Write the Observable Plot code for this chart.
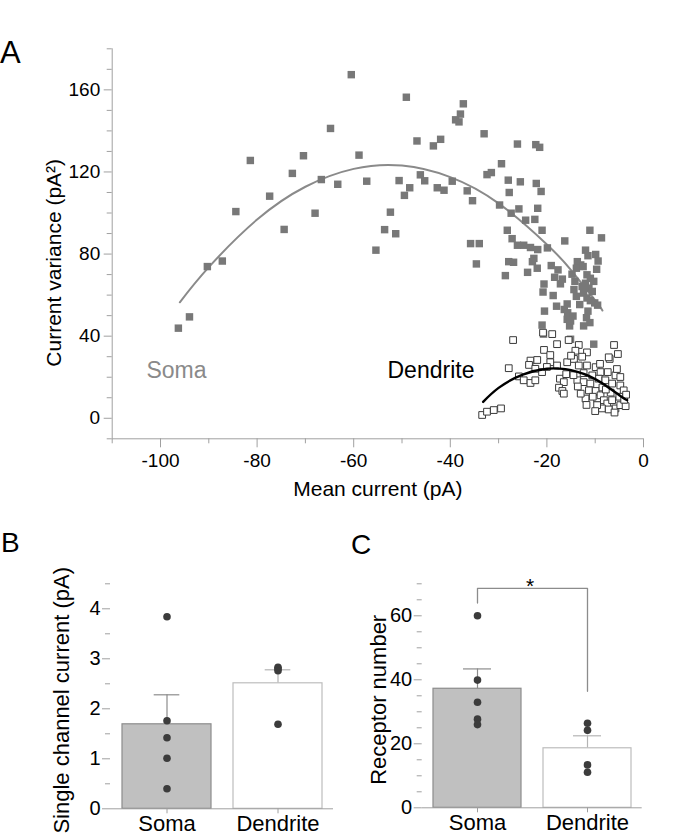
<!DOCTYPE html>
<html>
<head>
<meta charset="utf-8">
<script src="https://cdn.jsdelivr.net/npm/d3@7"></script>
<script src="https://cdn.jsdelivr.net/npm/@observablehq/plot@0.6"></script>
<style>
  html, body { margin: 0; padding: 0; background: #fff; }
  #root { position: relative; width: 685px; height: 835px; font-family: "Liberation Sans", Arial, sans-serif; color: #000; overflow: hidden; }
  .panel { position: absolute; }
  .letter { position: absolute; line-height: 1; font-family: "Liberation Sans", Arial, sans-serif; }
</style>
</head>
<body>
<div id="root">
  <div class="letter" style="left:0px;top:37px;font-size:31px;">A</div>
  <div class="letter" style="left:1px;top:529px;font-size:28px;">B</div>
  <div class="letter" style="left:351px;top:531px;font-size:28px;">C</div>
  <div class="panel" id="pA" style="left:0;top:0;"></div>
  <div class="panel" id="pB" style="left:0;top:520px;"></div>
  <div class="panel" id="pC" style="left:342px;top:520px;"></div>
</div>
<script>
// ---------------- Panel A data ----------------
const somaCurrent = [
  -60.5,-81.4,-84.4,-74.4,-77.4,-72.7,-70.4,-64.8,-68.0,-66.7,-63.3,
  -96.3,-94.0,-90.3,-87.2,
  -49.1,-37.3,-37.9,-38.9,-38.2,-33.0,-46.9,-42.0,-43.5,-58.9,-57.3,-50.6,-46.2,-45.3,-48.4,-49.5,
  -42.7,-41.3,-39.6,-36.5,-35.4,-32.4,-31.5,-29.4,-29.8,-52.4,-53.6,-51.3,-55.4,-35.8,-34.0,
  -26.1,-22.3,-21.5,-28.0,-25.5,-22.2,-27.8,-21.2,-27.4,-25.8,-21.9,-24.4,-22.5,-21.0,-28.2,
  -27.2,-26.1,-24.8,-23.4,-21.9,-19.9,-34.6,-27.9,-26.9,-22.7,-23.0,-22.0,-24.0,-28.6,-20.6,
  -20.8,-20.5,-21.0,
  -11.1,-8.7,-16.3,-12.0,-11.5,-9.9,-9.4,-13.7,-13.0,-13.9,-12.5,-9.7,-19.1,-17.7,-16.8,-18.4,
  -17.2,-14.8,-14.2,-11.7,-11.0,-10.3,-12.0,-12.7,-11.3,-10.6,-12.4,-11.7,-11.0,-10.1,-9.5,
  -14.4,-13.9,-13.2,-18.7,-18.0,-15.8,-16.4,-15.7,-15.8,-14.6,-15.3,-11.5,-11.8,-11.1,-12.4,
  -20.7,-15.1,-10.3,-15.1
];
const somaVariance = [
  167.4,125.6,100.7,92.0,108.2,119.3,127.9,141.2,99.9,116.3,114.0,
  43.9,49.4,73.9,76.6,
  156.4,153.2,148.2,145.4,144.4,138.6,135.1,135.9,132.7,128.2,115.5,115.8,118.6,115.7,112.3,108.6,
  112.3,111.1,115.5,110.8,106.0,118.7,119.7,124.0,103.9,100.4,91.9,89.9,81.9,85.1,85.1,
  133.6,133.3,132.0,116.0,115.2,114.4,110.0,110.5,99.9,102.0,102.3,96.5,96.9,91.6,91.6,
  87.5,84.3,84.3,83.2,82.2,83.0,75.2,76.3,76.0,77.9,76.3,73.1,71.1,69.5,65.4,
  61.5,52.2,45.4,
  91.6,87.9,86.4,81.9,79.2,79.8,76.6,76.3,74.7,73.1,73.9,72.6,74.4,72.3,67.8,68.7,
  65.5,70.2,66.7,69.9,68.2,66.7,65.8,64.2,63.4,61.8,61.0,58.6,57.3,56.2,55.1,
  62.7,59.4,55.4,59.8,54.6,55.7,53.0,51.4,48.2,49.8,45.0,52.2,49.0,46.6,45.0,
  41.0,47.4,36.1,38.5
];
const dendriteCurrent = [
  -27.0,-20.8,-18.9,-20.6,-17.9,-15.5,-13.4,-11.7,-14.1,-19.3,-6.1,-5.3,-7.0,
  -27.9,-23.4,-22.0,-23.7,-22.4,-25.8,-24.8,-23.4,-22.4,-19.3,-17.9,-15.8,-14.4,-12.7,
  -13.4,-11.7,-9.9,-8.9,-7.4,-5.8,-4.8,-17.3,-16.5,-17.5,-16.8,-16.5,-13.7,-12.4,-11.0,
  -9.3,-7.9,-6.5,-4.8,-4.1,-11.3,-9.9,-12.0,-9.6,-8.9,-8.2,-7.5,-6.5,-5.8,-4.8,-3.7,
  -8.6,-7.2,-33.4,-32.4,-31.0,-29.5,-9.6,-12.4,-10.6,-7.2,
  -10.0,-6.0,-5.0,-6.8,-8.5,-10.5,-13.0,-14.5,-21.0,-4.0,-3.6,
  -16.0,-15.0,-9.0,-7.8,-5.5,-11.8,-13.6,-20.0
];
const dendriteVariance = [
  38.1,41.7,41.0,33.3,36.1,38.1,35.7,32.1,32.9,30.8,35.7,31.3,28.9,
  24.4,28.1,28.4,26.0,24.1,20.4,18.5,17.2,18.5,27.3,25.7,27.3,28.9,30.0,
  25.7,25.7,24.9,22.5,22.5,20.9,20.1,19.3,17.6,14.9,13.3,12.0,18.5,17.6,16.9,
  19.3,18.5,16.9,16.0,13.6,13.6,13.3,9.6,9.6,11.2,8.8,7.2,8.8,4.8,6.4,5.9,
  4.8,4.3,1.6,3.2,4.0,4.8,6.4,22.0,20.9,29.7,
  3.5,2.8,10.5,12.5,15.0,10.5,12.0,21.0,22.5,9.0,11.5,
  21.5,30.5,26.5,14.0,24.0,6.5,15.5,25.0
];
// fitted parabolas, sampled from the drawn curves
const somaFitX = [-96, -90, -80, -70, -60, -50, -40, -30, -20, -15, -10, -8.5];
const somaFitY = [56.5, 73.6, 96.8, 112.8, 121.5, 123.1, 117.5, 104.7, 84.7, 72.2, 57.4, 52.5];
const dendFitX = [-33.2, -30, -25, -20, -17.5, -15, -10, -5, -3.4];
const dendFitY = [8.0, 14.8, 21.3, 24.1, 24.2, 23.4, 19.1, 11.2, 8.8];

const xMajorA = [-100, -80, -60, -40, -20, 0];
const xMinorA = [-110, -90, -70, -50, -30, -10];
const yMajorA = [0, 40, 80, 120, 160];
const yMinorA = [-10, 10, 20, 30, 50, 60, 70, 90, 100, 110, 130, 140, 150, 170, 180];

// ---------------- Panels B & C data ----------------
const groups = ["Soma", "Dendrite"];
const channelMean = [1.69, 2.51];
const channelSemTop = [2.28, 2.78];
const channelSoma = [3.84, 1.76, 1.42, 1.01, 0.40];
const channelDend = [2.83, 2.80, 2.76, 1.69];
const yMajorB = [0, 1, 2, 3, 4];
const yMinorB = [0.5, 1.5, 2.5, 3.5, 4.5];

const receptorMean = [37.2, 18.6];
const receptorSemTop = [43.4, 22.5];
const receptorSoma = [60, 39.9, 33.0, 27.7, 26.0];
const receptorDend = [26.4, 24.2, 13.4, 11.1];
const yMajorC = [0, 20, 40, 60];
const yMinorC = [5, 10, 15, 25, 30, 35, 45, 50, 55, 65, 70];
const bracketC = [{g: "Soma", v: 64}, {g: "Soma", v: 68.6}, {g: "Dendrite", v: 68.6}, {g: "Dendrite", v: 36.4}];

// ---------------- styling ----------------
const FONT = '"Liberation Sans", Arial, sans-serif';
const AX = "#a0a0a0";
const fmt = d => String(d);

const soma = somaCurrent.map((x, i) => ({x, y: somaVariance[i]}));
const dend = dendriteCurrent.map((x, i) => ({x, y: dendriteVariance[i]}));
const somaFit = somaFitX.map((x, i) => ({x, y: somaFitY[i]}));
const dendFit = dendFitX.map((x, i) => ({x, y: dendFitY[i]}));

// ---------------- Panel A ----------------
const A = Plot.plot({
  width: 685, height: 510,
  marginLeft: 111.7, marginRight: 42, marginTop: 48.3, marginBottom: 71.7,
  x: {domain: [-110, 0], axis: null},
  y: {domain: [-10, 180], axis: null},
  style: {fontFamily: FONT, fontSize: "19px", background: "transparent", overflow: "visible", color: "#000"},
  marks: [
    Plot.ruleY([-10], {stroke: AX}),
    Plot.ruleX([-110], {stroke: AX}),
    Plot.axisX(xMinorA, {tickSize: 5, tickFormat: () => "", stroke: AX, label: null}),
    Plot.axisX(xMajorA, {tickSize: 9, tickPadding: 6, tickFormat: fmt, stroke: AX, fill: "#000", fontSize: 19, label: null}),
    Plot.axisY(yMinorA, {tickSize: 5, tickFormat: () => "", stroke: AX, label: null}),
    Plot.axisY(yMajorA, {tickSize: 8, tickPadding: 4, tickFormat: fmt, stroke: AX, fill: "#000", fontSize: 19, label: null}),
    Plot.line(somaFit, {x: "x", y: "y", stroke: "#8a8a8a", strokeWidth: 2, curve: "natural"}),
    Plot.dot(soma, {x: "x", y: "y", symbol: "square", r: 4.2, fill: "#787878", stroke: "none"}),
    Plot.dot(dend, {x: "x", y: "y", symbol: "square", r: 3.8, fill: "#fff", stroke: "#3a3a3a", strokeWidth: 1}),
    Plot.line(dendFit, {x: "x", y: "y", stroke: "#000", strokeWidth: 2.4, curve: "natural"}),
    Plot.text(["Soma"], {x: [-96.7], y: [23.3], text: d => d, fontSize: 23, fill: "#8a8a8a"}),
    Plot.text(["Dendrite"], {x: [-44], y: [23.3], text: d => d, fontSize: 23, fill: "#000"}),
    Plot.text(["Mean current (pA)"], {frameAnchor: "bottom", textAnchor: "middle", lineAnchor: "middle", dy: 50, fontSize: 21, fill: "#000"}),
    Plot.text(["Current variance (pA²)"], {frameAnchor: "left", textAnchor: "middle", lineAnchor: "middle", dx: -58, dy: 19, rotate: -90, fontSize: 21, fill: "#000"})
  ]
});
document.getElementById("pA").appendChild(A);

// ---------------- bar panel helper ----------------
function barPanel({width, marginLeft, marginRight, marginTop, marginBottom, yDomain, means, tops, somaPts, dendPts, yMajor, yMinor, label, labelDx, labelDy, capInset, extra = []}) {
  const height = 315;
  const bars = groups.map((g, i) => ({g, mean: means[i], top: tops[i]}));
  const dots = [...somaPts.map(v => ({g: "Soma", v})), ...dendPts.map(v => ({g: "Dendrite", v}))];
  const plotW = width - marginLeft - marginRight;
  return Plot.plot({
    width, height, marginLeft, marginRight, marginTop, marginBottom,
    x: {domain: groups, padding: 0, axis: null},
    y: {domain: yDomain, axis: null},
    style: {fontFamily: FONT, fontSize: "19px", background: "transparent", overflow: "visible", color: "#000"},
    marks: [
      Plot.ruleX(bars, {x: "g", y1: "mean", y2: "top", stroke: d => d.g === "Soma" ? "#8c8c8c" : "#b4b4b4", strokeWidth: 1.2}),
      Plot.tickY(bars, {x: "g", y: "top", stroke: d => d.g === "Soma" ? "#8c8c8c" : "#b4b4b4", strokeWidth: 1.2, insetLeft: capInset, insetRight: capInset}),
      Plot.barY(bars, {x: "g", y: "mean", fill: d => d.g === "Soma" ? "#c0c0c0" : "#ffffff", stroke: d => d.g === "Soma" ? "#8c8c8c" : "#bdbdbd", strokeWidth: 1.2, insetLeft: 11, insetRight: 11}),
      Plot.dot(dots, {x: "g", y: "v", r: 3.8, fill: "#3c3c3c", stroke: "none"}),
      Plot.ruleY([yDomain[0]], {stroke: AX}),
      Plot.ruleX([0], {y1: yDomain[0], y2: yDomain[1], dx: -plotW / 2, stroke: AX}),
      Plot.axisY(yMinor, {tickSize: 5, tickFormat: () => "", stroke: AX, label: null}),
      Plot.axisY(yMajor, {tickSize: 8, tickPadding: 2, tickFormat: fmt, stroke: AX, fill: "#000", fontSize: 20, label: null}),
      Plot.axisX(groups, {tickSize: 5, tickPadding: 2, stroke: AX, fill: "#000", fontSize: 22, label: null}),
      Plot.text([label], {frameAnchor: "left", textAnchor: "middle", lineAnchor: "middle", dx: labelDx, dy: labelDy, rotate: -90, fontSize: 22, fill: "#000"}),
      ...extra
    ]
  });
}

const B = barPanel({
  width: 342, marginLeft: 110, marginRight: 9, marginTop: 63.3, marginBottom: 26.7,
  yDomain: [0, 4.5], means: channelMean, tops: channelSemTop, somaPts: channelSoma, dendPts: channelDend,
  yMajor: yMajorB, yMinor: yMinorB, label: "Single channel current (pA)", labelDx: -49, labelDy: 4, capInset: 42.7
});
document.getElementById("pB").appendChild(B);

const C = barPanel({
  width: 343, marginLeft: 79.7, marginRight: 43.3, marginTop: 63.3, marginBottom: 27.7,
  yDomain: [0, 70], means: receptorMean, tops: receptorSemTop, somaPts: receptorSoma, dendPts: receptorDend,
  yMajor: yMajorC, yMinor: yMinorC, label: "Receptor number", labelDx: -43, labelDy: 4, capInset: 41,
  extra: [
    Plot.line(bracketC, {x: "g", y: "v", stroke: "#8c8c8c", strokeWidth: 1.3}),
    Plot.text(["*"], {frameAnchor: "top", textAnchor: "middle", lineAnchor: "middle", dx: -2, dy: 2, fontSize: 21, fill: "#000"})
  ]
});
document.getElementById("pC").appendChild(C);
</script>
</body>
</html>
